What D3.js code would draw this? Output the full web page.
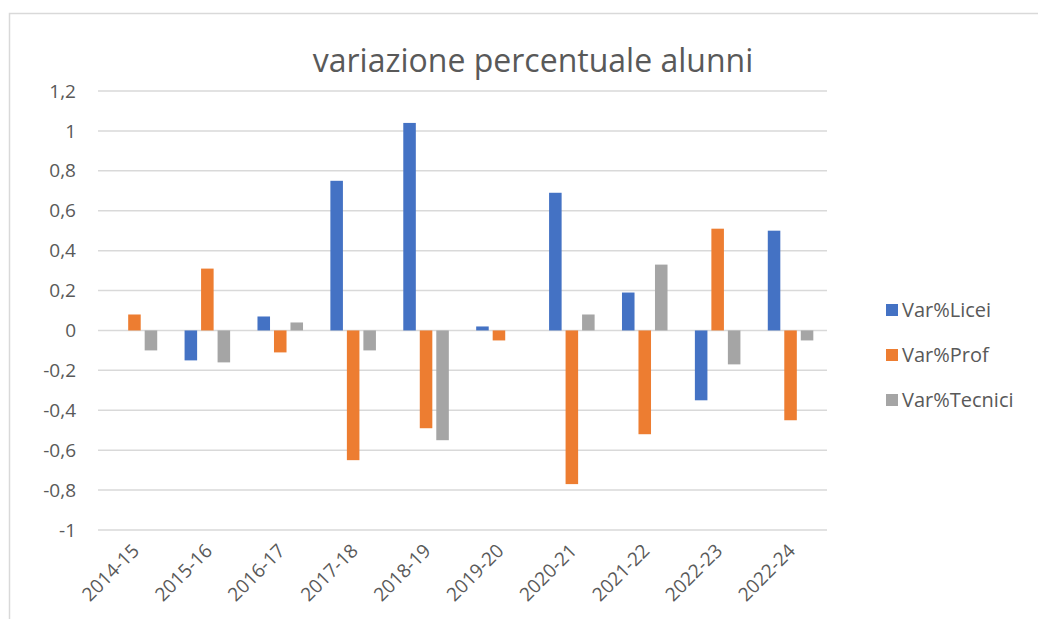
<!DOCTYPE html>
<html>
<head>
<meta charset="utf-8">
<script src="https://cdn.jsdelivr.net/npm/d3@7"></script>
<style>
  body { margin: 0; background: #fff; }
  text { font-family: "Open Sans", sans-serif; fill: #595959; }
</style>
</head>
<body>
<script>
const years = ['2014-15', '2015-16', '2016-17', '2017-18', '2018-19',
  '2019-20', '2020-21', '2021-22', '2022-23', '2022-24'];
const seriesNames = ['Var%Licei', 'Var%Prof', 'Var%Tecnici'];
const licei = [0, -0.15, 0.07, 0.75, 1.04, 0.02, 0.69, 0.19, -0.35, 0.50];
const prof = [0.08, 0.31, -0.11, -0.65, -0.49, -0.05, -0.77, -0.52, 0.51, -0.45];
const tecnici = [-0.10, -0.16, 0.04, -0.10, -0.55, 0, 0.08, 0.33, -0.17, -0.05];
const yTicks = [1.2, 1, 0.8, 0.6, 0.4, 0.2, 0, -0.2, -0.4, -0.6, -0.8, -1];
const colors = ['#4472C4', '#ED7D31', '#A5A5A5'];

function main() {
  const width = 1038;
  const height = 619;
  const svg = d3.select('body').append('svg')
    .attr('width', width)
    .attr('height', height);

  // chart frame
  svg.append('rect')
    .attr('x', 9.5).attr('y', 13.5)
    .attr('width', 1040).attr('height', 640)
    .attr('fill', '#fff')
    .attr('stroke', '#d9d9d9')
    .attr('stroke-width', 1.5);

  const plot = { left: 98, right: 827, top: 91, bottom: 530 };

  const x0 = d3.scaleBand()
    .domain(years)
    .range([plot.left, plot.right]);

  const groupW = 49.5;
  const x1 = d3.scaleBand()
    .domain(seriesNames)
    .range([(x0.bandwidth() - groupW) / 2, (x0.bandwidth() + groupW) / 2])
    .paddingInner(0.24)
    .paddingOuter(0.12);

  const y = d3.scaleLinear()
    .domain([-1, 1.2])
    .range([plot.bottom, plot.top]);

  // gridlines
  svg.append('g')
    .selectAll('line')
    .data(yTicks)
    .enter()
    .append('line')
    .attr('x1', plot.left)
    .attr('x2', plot.right)
    .attr('y1', d => y(d))
    .attr('y2', d => y(d))
    .attr('stroke', '#d9d9d9')
    .attr('stroke-width', 1.5);

  // y labels
  svg.append('g')
    .selectAll('text')
    .data(yTicks)
    .enter()
    .append('text')
    .attr('x', 76)
    .attr('y', d => y(d))
    .attr('dy', '0.35em')
    .attr('text-anchor', 'end')
    .style('font-size', '19px')
    .text(d => String(d).replace('.', ','));

  const table = years.map((yr, i) => ({
    year: yr,
    values: [licei[i], prof[i], tecnici[i]],
  }));

  const groups = svg.append('g')
    .selectAll('g')
    .data(table)
    .enter()
    .append('g')
    .attr('transform', d => `translate(${x0(d.year)},0)`);

  groups.selectAll('rect')
    .data(d => d.values.map((v, k) => ({ name: seriesNames[k], value: v, k })))
    .enter()
    .append('rect')
    .attr('x', d => x1(d.name))
    .attr('width', x1.bandwidth())
    .attr('y', d => Math.min(y(d.value), y(0)))
    .attr('height', d => Math.abs(y(d.value) - y(0)))
    .attr('fill', d => colors[d.k]);

  // x labels
  svg.append('g')
    .selectAll('text')
    .data(years)
    .enter()
    .append('text')
    .attr('text-anchor', 'end')
    .attr('transform', d => `translate(${x0(d) + x0.bandwidth() / 2 + 6},${plot.bottom + 22}) rotate(-45)`)
    .style('font-size', '19px')
    .text(d => d);

  // title
  svg.append('text')
    .attr('x', 533)
    .attr('y', 72)
    .attr('text-anchor', 'middle')
    .style('font-size', '32px')
    .text('variazione percentuale alunni');

  // legend
  const legend = svg.append('g')
    .selectAll('g')
    .data(seriesNames)
    .enter()
    .append('g')
    .attr('transform', (d, i) => `translate(886,${310 + i * 45})`);

  legend.append('rect')
    .attr('x', 0)
    .attr('y', -6)
    .attr('width', 12)
    .attr('height', 12)
    .attr('fill', (d, i) => colors[i]);

  legend.append('text')
    .attr('x', 16)
    .attr('dy', '0.35em')
    .style('font-size', '20px')
    .text(d => d);
}

main();
</script>
</body>
</html>
